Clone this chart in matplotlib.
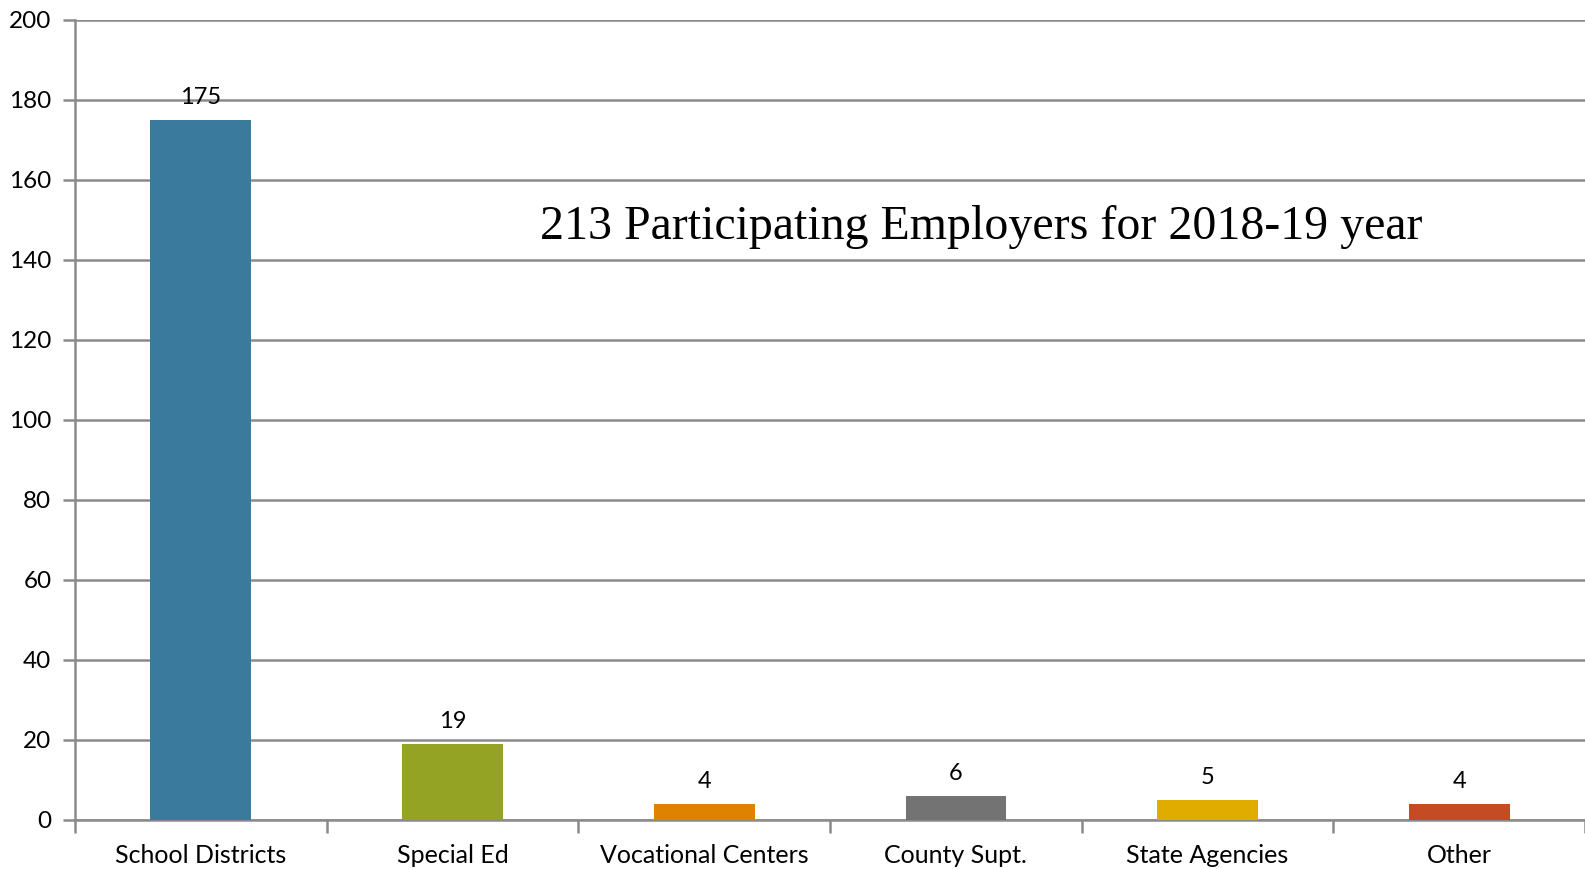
import matplotlib
matplotlib.use("Agg")
import matplotlib.pyplot as plt
import numpy as np

categories = ["School Districts", "Special Ed", "Vocational Centers",
              "County Supt.", "State Agencies", "Other"]
counts = [175, 19, 4, 6, 5, 4]
bar_colors = ["#3A7A9C", "#94A323", "#DE8200", "#737373", "#E0AC00", "#C44B23"]
y_ticks = [0, 20, 40, 60, 80, 100, 120, 140, 160, 180, 200]
title_text = "213 Participating Employers for 2018-19 year"

W, H = 1585, 869
fig = plt.figure(figsize=(W / 100, H / 100), dpi=100)
ax = fig.add_axes([75 / W, 1 - 820 / H, 1 - 75 / W, 800 / H])

grid_c = "#8A8A8A"
x = np.arange(len(categories))
ax.bar(x, counts, width=0.4, color=bar_colors, zorder=3)

for xi, v in zip(x, counts):
    ax.annotate(str(v), (xi, v), xytext=(0, 9), textcoords="offset points",
                ha="center", va="bottom", fontsize=17, family="Lato", color="black")

ax.set_xlim(-0.5, len(categories) - 0.5)
ax.set_ylim(0, 200)
ax.set_yticks(y_ticks)
ax.set_yticklabels([str(t) for t in y_ticks], fontsize=17.5, family="Lato")
ax.yaxis.grid(True, color=grid_c, linewidth=1.8, zorder=0)
ax.set_axisbelow(True)

# category labels centered under bars, tick marks at category boundaries
ax.set_xticks(x)
ax.set_xticklabels(categories, fontsize=18, family="Lato")
ax.tick_params(axis="x", length=0, pad=17)
ax.set_xticks(np.arange(len(categories) + 1) - 0.5, minor=True)
ax.tick_params(axis="x", which="minor", length=9, width=1.8, color=grid_c)
ax.tick_params(axis="y", length=9, width=1.8, color=grid_c, pad=8)

for s in ["top", "right"]:
    ax.spines[s].set_visible(False)
for s in ["left", "bottom"]:
    ax.spines[s].set_color(grid_c)
    ax.spines[s].set_linewidth(1.8)

ax.text(0.600, 0.741, title_text, transform=ax.transAxes, ha="center", va="center",
        fontsize=34.5, family="Liberation Serif", color="black")

fig.savefig("out.png", dpi=100)
